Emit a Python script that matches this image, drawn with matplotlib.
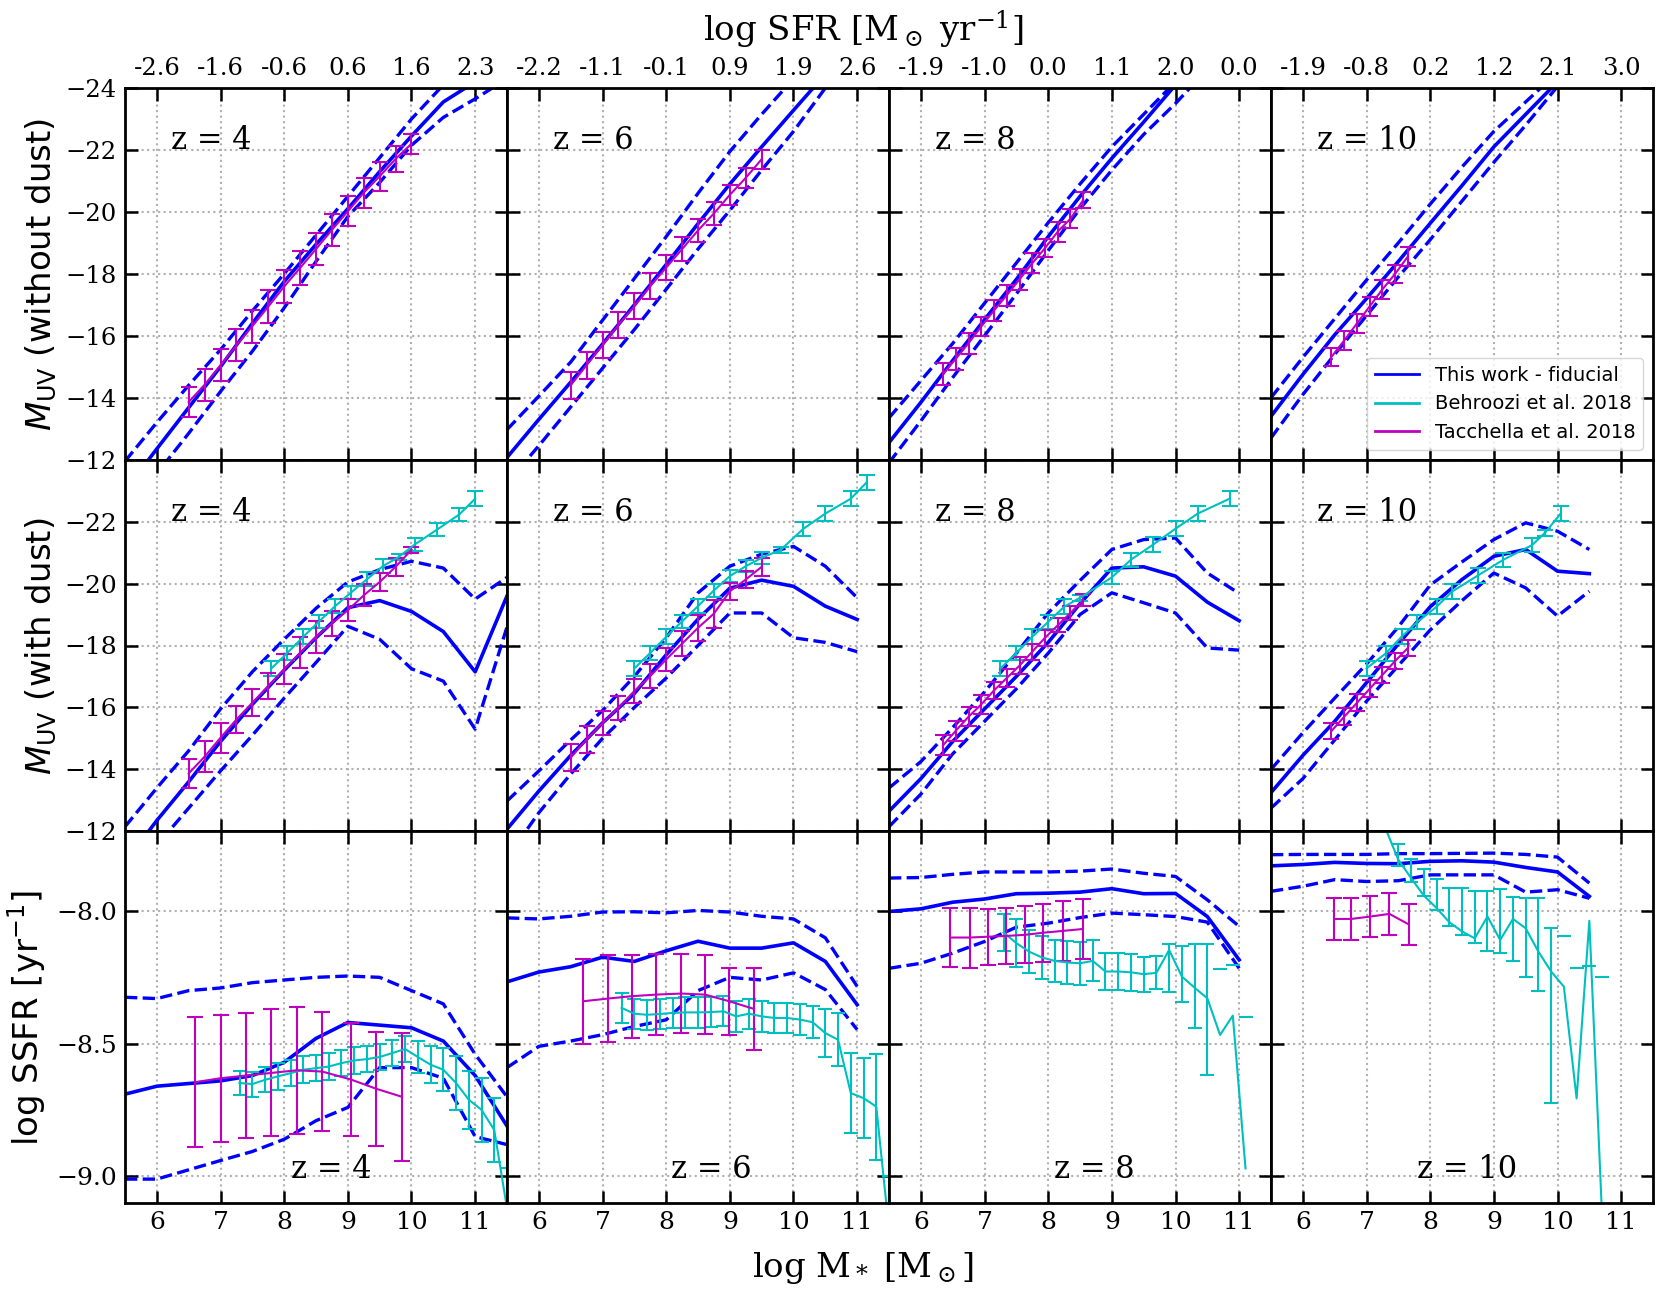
import matplotlib
matplotlib.use("Agg")
import matplotlib.pyplot as plt
from matplotlib.lines import Line2D

plt.rcParams['font.family'] = 'DejaVu Serif'
plt.rcParams['mathtext.fontset'] = 'dejavusans'

nan = float('nan')
redshifts = [4, 6, 8, 10]

# model mass grid per redshift
mass_grid = {
    4: [5.5, 6.0, 6.5, 7.0, 7.5, 8.0, 8.5, 9.0, 9.5, 10.0, 10.5, 11.0, 11.5],
    6: [5.5, 6.0, 6.5, 7.0, 7.5, 8.0, 8.5, 9.0, 9.5, 10.0, 10.5, 11.0],
    8: [5.5, 6.0, 6.5, 7.0, 7.5, 8.0, 8.5, 9.0, 9.5, 10.0, 10.5, 11.0],
    10: [5.5, 6.0, 6.5, 7.0, 7.5, 8.0, 8.5, 9.0, 9.5, 10.0, 10.5],
}

# --- M_UV without dust (median, bright / faint envelopes)
muv_nodust_med = {
    4: [-11.0, -12.35, -13.68, -15.0, -16.4, -17.75, -18.95, -20.1, -21.3, -22.45, -23.55, -24.2, -24.8],
    6: [-12.07, -13.3, -14.5, -15.73, -17.0, -18.3, -19.62, -20.9, -22.1, -23.28, -24.45, -25.5],
    8: [-12.55, -13.85, -15.2, -16.52, -17.82, -19.2, -20.5, -21.73, -22.9, -24.1, -25.2, -26.2],
    10: [-13.4, -14.75, -16.03, -17.2, -18.4, -19.63, -20.85, -22.1, -23.15, -24.2, -25.2],
}
muv_nodust_hi = {
    4: [-11.95, -13.2, -14.4, -15.55, -16.8, -18.0, -19.25, -20.5, -21.75, -23.0, -24.1, -24.8, -25.4],
    6: [-12.97, -14.05, -15.15, -16.5, -17.85, -19.2, -20.6, -21.95, -23.15, -24.3, -25.4, -26.4],
    8: [-13.35, -14.55, -15.75, -17.05, -18.35, -19.65, -20.9, -22.1, -23.15, -24.2, -25.2, -26.2],
    10: [-14.0, -15.3, -16.55, -17.8, -19.0, -20.25, -21.45, -22.6, -23.55, -24.5, -25.4],
}
muv_nodust_lo = {
    4: [-10.6, -11.55, -12.85, -14.2, -15.5, -16.9, -18.4, -19.85, -20.95, -22.15, -23.05, -23.65, -24.3],
    6: [-11.25, -12.45, -13.7, -14.95, -16.2, -17.5, -18.8, -20.05, -21.35, -22.6, -24.0, -25.0],
    8: [-11.9, -13.25, -14.65, -16.0, -17.35, -18.75, -20.1, -21.35, -22.5, -23.5, -24.6, -25.6],
    10: [-12.7, -14.1, -15.4, -16.65, -17.9, -19.1, -20.35, -21.6, -22.8, -24.05, -25.1],
}

# --- M_UV with dust
muv_dust_med = {
    4: [-11.0, -12.35, -13.6, -14.9, -16.1, -17.2, -18.25, -19.22, -19.45, -19.1, -18.45, -17.15, -19.6],
    6: [-12.07, -13.3, -14.45, -15.5, -16.45, -17.7, -18.85, -19.85, -20.11, -19.91, -19.27, -18.84],
    8: [-12.65, -13.7, -14.9, -15.95, -17.0, -18.1, -19.35, -20.5, -20.54, -20.24, -19.4, -18.8],
    10: [-13.25, -14.45, -15.55, -16.8, -18.05, -19.25, -20.13, -20.88, -21.1, -20.4, -20.32],
}
muv_dust_hi = {
    4: [-12.15, -13.4, -14.6, -15.95, -17.15, -18.2, -19.2, -20.05, -20.45, -20.72, -20.5, -19.5, -20.2],
    6: [-12.98, -13.95, -14.95, -15.9, -17.0, -18.25, -19.7, -20.56, -20.95, -21.2, -20.56, -19.54],
    8: [-13.4, -14.25, -15.35, -16.5, -17.75, -19.05, -20.1, -21.1, -21.42, -21.47, -20.34, -19.68],
    10: [-14.0, -15.18, -16.3, -17.4, -18.6, -19.95, -20.7, -21.42, -21.96, -21.69, -21.1],
}
muv_dust_lo = {
    4: [-10.45, -11.55, -12.75, -13.95, -15.1, -16.3, -17.45, -18.62, -18.2, -17.25, -16.85, -15.3, -18.6],
    6: [-11.15, -12.6, -13.85, -15.0, -16.0, -16.95, -18.0, -19.05, -19.05, -18.25, -18.1, -17.8],
    8: [-12.15, -13.2, -14.5, -15.55, -16.6, -17.75, -19.0, -19.7, -19.38, -19.05, -17.92, -17.85],
    10: [-12.75, -13.7, -14.95, -16.2, -17.35, -18.5, -19.45, -20.34, -19.86, -18.95, -19.75],
}

# --- log SSFR
ssfr_med = {
    4: [-8.69, -8.66, -8.65, -8.64, -8.62, -8.57, -8.48, -8.42, -8.43, -8.44, -8.49, -8.62, -8.81],
    6: [-8.267, -8.23, -8.21, -8.174, -8.19, -8.15, -8.114, -8.14, -8.14, -8.12, -8.19, -8.353],
    8: [-8.002, -7.992, -7.967, -7.955, -7.935, -7.933, -7.929, -7.916, -7.935, -7.934, -8.021, -8.184],
    10: [-7.83, -7.825, -7.817, -7.821, -7.822, -7.813, -7.811, -7.816, -7.836, -7.853, -7.945],
}
ssfr_hi = {
    4: [-8.325, -8.33, -8.30, -8.29, -8.27, -8.26, -8.25, -8.245, -8.25, -8.30, -8.35, -8.54, -8.70],
    6: [-8.026, -8.03, -8.02, -8.004, -8.003, -8.007, -7.998, -8.004, -8.02, -8.03, -8.101, -8.284],
    8: [-7.876, -7.874, -7.862, -7.853, -7.853, -7.853, -7.85, -7.842, -7.858, -7.87, -7.958, -8.058],
    10: [-7.788, -7.787, -7.787, -7.787, -7.784, -7.784, -7.783, -7.782, -7.787, -7.797, -7.895],
}
ssfr_lo = {
    4: [-9.01, -9.01, -8.975, -8.94, -8.906, -8.86, -8.79, -8.74, -8.59, -8.59, -8.63, -8.85, -8.88],
    6: [-8.59, -8.51, -8.49, -8.466, -8.435, -8.41, -8.30, -8.25, -8.26, -8.233, -8.296, -8.447],
    8: [-8.216, -8.197, -8.159, -8.115, -8.061, -8.046, -8.025, -8.008, -8.014, -8.021, -8.042, -8.216],
    10: [-7.926, -7.907, -7.882, -7.889, -7.886, -7.864, -7.864, -7.864, -7.929, -7.92, -7.952],
}

# --- Tacchella et al. 2018 (M_UV)
tac_mass = {
    4: [6.5, 6.75, 7.0, 7.25, 7.5, 7.75, 8.0, 8.25, 8.5, 8.75, 9.0, 9.25, 9.5, 9.75, 10.0],
    6: [6.5, 6.75, 7.0, 7.25, 7.5, 7.75, 8.0, 8.25, 8.5, 8.75, 9.0, 9.25, 9.5],
    8: [6.35, 6.55, 6.75, 6.95, 7.15, 7.35, 7.55, 7.75, 7.95, 8.15, 8.35, 8.55],
    10: [6.45, 6.65, 6.85, 7.05, 7.25, 7.45, 7.65],
}
tac_nodust = {
    4: [-13.86, -14.42, -15.05, -15.69, -16.31, -16.94, -17.59, -18.19, -18.8, -19.42, -20.02, -20.62, -21.15, -21.71, -22.2],
    6: [-14.4, -15.05, -15.7, -16.35, -16.95, -17.6, -18.2, -18.8, -19.4, -19.95, -20.55, -21.1, -21.7],
    8: [-14.77, -15.26, -15.76, -16.3, -16.82, -17.31, -17.82, -18.34, -18.83, -19.36, -19.78, -20.38],
    10: [-15.32, -15.85, -16.4, -16.95, -17.5, -18.0, -18.56],
}
tac_nodust_err = {
    4: [0.48, 0.52, 0.51, 0.52, 0.53, 0.54, 0.52, 0.54, 0.53, 0.52, 0.48, 0.49, 0.46, 0.41, 0.32],
    6: [0.43, 0.43, 0.43, 0.42, 0.42, 0.42, 0.4, 0.4, 0.38, 0.36, 0.33, 0.32, 0.3],
    8: [0.35, 0.35, 0.34, 0.32, 0.35, 0.34, 0.33, 0.32, 0.29, 0.32, 0.31, 0.25],
    10: [0.3, 0.3, 0.3, 0.3, 0.3, 0.3, 0.3],
}
tac_dust = {
    4: [-13.87, -14.41, -15.02, -15.61, -16.15, -16.69, -17.23, -17.76, -18.28, -18.71, -19.14, -19.62, -20.05, -20.54, -21.09],
    6: [-14.38, -14.97, -15.5, -15.99, -16.53, -17.01, -17.55, -18.06, -18.57, -19.03, -19.75, -20.13, -20.54],
    8: [-14.78, -15.25, -15.7, -16.1, -16.55, -16.95, -17.35, -17.8, -18.25, -18.65, -19.05, -19.46],
    10: [-15.24, -15.7, -16.15, -16.6, -17.05, -17.5, -17.92],
}
tac_dust_err = {
    4: [0.46, 0.5, 0.48, 0.43, 0.43, 0.43, 0.48, 0.5, 0.51, 0.4, 0.35, 0.35, 0.3, 0.3, 0.1],
    6: [0.43, 0.43, 0.38, 0.38, 0.38, 0.38, 0.38, 0.4, 0.43, 0.45, 0.27, 0.27, 0.3],
    8: [0.33, 0.32, 0.3, 0.3, 0.28, 0.28, 0.27, 0.26, 0.25, 0.23, 0.22, 0.2],
    10: [0.27, 0.27, 0.27, 0.27, 0.27, 0.27, 0.27],
}

# --- Behroozi et al. 2018 (M_UV with dust)
beh_mass = {
    4: [7.8, 8.05, 8.3, 8.55, 8.8, 9.05, 9.3, 9.55, 9.8, 10.05, 10.4, 10.75, 11.0],
    6: [7.5, 7.75, 8.0, 8.25, 8.5, 8.75, 9.0, 9.25, 9.5, 9.8, 10.15, 10.5, 10.9, 11.15],
    8: [7.25, 7.5, 7.75, 8.0, 8.25, 8.5, 9.0, 9.3, 9.65, 10.0, 10.35, 10.85],
    10: [7.0, 7.3, 7.55, 7.8, 8.1, 8.35, 8.75, 9.15, 9.6, 9.8, 10.05],
}
beh_dust = {
    4: [-17.26, -17.76, -18.28, -18.78, -19.27, -19.71, -20.14, -20.56, -20.86, -21.26, -21.74, -22.23, -22.74],
    6: [-17.26, -17.76, -18.28, -18.78, -19.27, -19.78, -20.24, -20.56, -20.83, -21.09, -21.76, -22.26, -22.74, -23.27],
    8: [-17.26, -17.76, -18.28, -18.76, -19.25, -19.54, -20.2, -20.77, -21.26, -21.77, -22.26, -22.74],
    10: [-17.26, -17.74, -18.28, -18.76, -19.25, -19.75, -20.26, -20.77, -21.24, -21.63, -22.26],
}
beh_dust_err = {
    4: [0.24, 0.22, 0.24, 0.22, 0.22, 0.22, 0.22, 0.22, 0.1, 0.22, 0.22, 0.22, 0.24],
    6: [0.24, 0.22, 0.24, 0.22, 0.22, 0.2, 0.2, 0.2, 0.2, 0.1, 0.24, 0.24, 0.24, 0.24],
    8: [0.24, 0.22, 0.24, 0.24, 0.24, 0.1, 0.2, 0.22, 0.24, 0.24, 0.24, 0.25],
    10: [0.24, 0.24, 0.24, 0.24, 0.24, 0.24, 0.25, 0.23, 0.23, 0.1, 0.24],
}

# --- Tacchella et al. 2018 (SSFR)
tac_ssfr_mass = {
    4: [6.6, 7.0, 7.4, 7.8, 8.2, 8.6, 9.05, 9.45, 9.85],
    6: [6.7, 7.08, 7.46, 7.84, 8.24, 8.61, 8.99, 9.38],
    8: [6.46, 6.77, 7.05, 7.34, 7.63, 7.92, 8.23, 8.54],
    10: [6.49, 6.76, 7.06, 7.36, 7.66],
}
tac_ssfr = {
    4: [-8.645, -8.63, -8.62, -8.61, -8.60, -8.605, -8.635, -8.67, -8.70],
    6: [-8.34, -8.33, -8.321, -8.315, -8.311, -8.315, -8.34, -8.369],
    8: [-8.10, -8.10, -8.097, -8.094, -8.09, -8.082, -8.075, -8.068],
    10: [-8.03, -8.03, -8.021, -8.011, -8.05],
}
tac_ssfr_err = {
    4: [0.245, 0.24, 0.236, 0.239, 0.239, 0.224, 0.213, 0.214, 0.24],
    6: [0.16, 0.163, 0.157, 0.152, 0.148, 0.148, 0.126, 0.156],
    8: [0.112, 0.113, 0.105, 0.104, 0.107, 0.11, 0.112, 0.113],
    10: [0.078, 0.078, 0.078, 0.078, 0.078],
}

# --- Behroozi et al. 2018 (SSFR), lower / upper errors (nan = undefined side)
beh_ssfr_mass = {
    4: [7.3, 7.5, 7.7, 7.9, 8.1, 8.3, 8.5, 8.7, 8.9, 9.1, 9.3, 9.5, 9.7, 9.9, 10.1, 10.3, 10.5, 10.7, 10.9, 11.1, 11.3, 11.5],
    6: [7.3, 7.5, 7.7, 7.9, 8.1, 8.3, 8.5, 8.7, 8.9, 9.1, 9.3, 9.5, 9.7, 9.9, 10.1, 10.3, 10.5, 10.7, 10.9, 11.1, 11.3, 11.5],
    8: [7.3, 7.5, 7.7, 7.9, 8.1, 8.3, 8.5, 8.7, 8.9, 9.1, 9.3, 9.5, 9.7, 9.9, 10.1, 10.3, 10.5, 10.7, 10.9, 11.1],
    10: [7.3, 7.5, 7.7, 7.9, 8.1, 8.3, 8.5, 8.7, 8.9, 9.1, 9.3, 9.5, 9.7, 9.9, 10.1, 10.3, 10.5, 10.7],
}
beh_ssfr = {
    4: [-8.648, -8.652, -8.636, -8.623, -8.611, -8.598, -8.592, -8.586, -8.573, -8.563, -8.558, -8.55, -8.535, -8.52,
        -8.55, -8.579, -8.598, -8.648, -8.711, -8.749, -8.825, -9.12],
    6: [-8.365, -8.387, -8.391, -8.388, -8.384, -8.382, -8.382, -8.381, -8.378, -8.397, -8.387, -8.397, -8.403, -8.403,
        -8.409, -8.419, -8.46, -8.485, -8.686, -8.705, -8.737, -9.2],
    8: [-8.081, -8.121, -8.153, -8.175, -8.188, -8.194, -8.197, -8.188, -8.228, -8.228, -8.231, -8.238, -8.233, -8.147,
        -8.247, -8.289, -8.329, -8.467, -8.394, -8.97],
    10: [-7.69, -7.807, -7.876, -7.942, -7.989, -8.042, -8.077, -8.103, -8.021, -8.109, -8.03, -8.065, -8.153, -8.228,
         -8.285, -8.706, -8.037, -9.15],
}
beh_ssfr_err_lo = {
    4: [0.047, 0.047, 0.047, 0.05, 0.05, 0.05, 0.05, 0.05, 0.05, 0.05, 0.05, 0.05, 0.05, 0.05,
        0.06, 0.07, 0.08, 0.1, 0.11, 0.12, 0.12, 0.15],
    6: [0.057, 0.057, 0.057, 0.057, 0.057, 0.057, 0.057, 0.057, 0.057, 0.057, 0.057, 0.057, 0.057, 0.057,
        0.057, 0.06, 0.09, 0.1, 0.15, 0.15, 0.2, 0.2],
    8: [0.07, 0.09, 0.08, 0.08, 0.08, 0.08, 0.08, 0.077, 0.07, 0.071, 0.07, 0.066, 0.062, 0.159,
        0.097, 0.153, 0.289, nan, nan, nan],
    10: [nan, 0.025, 0.015, 0.003, 0.007, 0.013, 0.015, 0.018, 0.129, 0.05, 0.16, 0.182, 0.148, 0.497,
         nan, nan, 0.172, nan],
}
beh_ssfr_err_hi = {
    4: [0.047, 0.047, 0.047, 0.05, 0.05, 0.05, 0.05, 0.05, 0.05, 0.05, 0.05, 0.05, 0.05, 0.05,
        0.06, 0.07, 0.08, 0.1, 0.11, 0.12, 0.12, 0.15],
    6: [0.057, 0.057, 0.057, 0.057, 0.057, 0.057, 0.057, 0.057, 0.057, 0.057, 0.057, 0.057, 0.057, 0.057,
        0.057, 0.06, 0.09, 0.1, 0.15, 0.15, 0.2, 0.2],
    8: [0.07, 0.09, 0.08, 0.08, 0.08, 0.08, 0.08, 0.077, 0.07, 0.071, 0.07, 0.066, 0.062, 0.022,
        0.116, 0.164, 0.204, 0.25, 0.19, 0.57],
    10: [nan, 0.059, 0.073, 0.1, 0.11, 0.128, 0.163, 0.177, 0.097, 0.193, 0.082, 0.113, 0.2, 0.163,
         0.189, 0.493, nan, 0.9],
}

# top axis: log SFR at the stellar mass ticks
mass_ticks = [6, 7, 8, 9, 10, 11]
sfr_ticklabels = {
    4: ['-2.6', '-1.6', '-0.6', '0.6', '1.6', '2.3'],
    6: ['-2.2', '-1.1', '-0.1', '0.9', '1.9', '2.6'],
    8: ['-1.9', '-1.0', '0.0', '1.1', '2.0', '0.0'],
    10: ['-1.9', '-0.8', '0.2', '1.2', '2.1', '3.0'],
}
bottom_label_x = [8.1, 8.08, 8.09, 7.79]

W, H = 1661, 1297
fig, axes = plt.subplots(3, 4, figsize=(W / 100, H / 100), dpi=100,
                         gridspec_kw=dict(wspace=0, hspace=0))
fig.subplots_adjust(left=125 / W, right=1653 / W, top=1 - 88 / H, bottom=1 - 1203 / H)

rows = [
    (muv_nodust_med, muv_nodust_hi, muv_nodust_lo),
    (muv_dust_med, muv_dust_hi, muv_dust_lo),
    (ssfr_med, ssfr_hi, ssfr_lo),
]

for r in range(3):
    med, hi, lo = rows[r]
    for c, z in enumerate(redshifts):
        ax = axes[r, c]
        m = mass_grid[z]
        ax.plot(m, med[z], color='b', lw=2.6)
        ax.plot(m, hi[z], color='b', lw=2.4, ls='--')
        ax.plot(m, lo[z], color='b', lw=2.4, ls='--')

        if r == 0:
            ax.errorbar(tac_mass[z], tac_nodust[z], yerr=tac_nodust_err[z], color='m',
                        lw=1.5, elinewidth=1.5, capsize=6, capthick=1.5)
        elif r == 1:
            ax.errorbar(beh_mass[z], beh_dust[z], yerr=beh_dust_err[z], color='c',
                        lw=1.5, elinewidth=1.5, capsize=6, capthick=1.5)
            ax.errorbar(tac_mass[z], tac_dust[z], yerr=tac_dust_err[z], color='m',
                        lw=1.5, elinewidth=1.5, capsize=6, capthick=1.5)
        else:
            ax.errorbar(beh_ssfr_mass[z], beh_ssfr[z],
                        yerr=[beh_ssfr_err_lo[z], beh_ssfr_err_hi[z]], color='c',
                        lw=1.5, elinewidth=1.5, capsize=5, capthick=1.5)
            ax.errorbar(tac_ssfr_mass[z], tac_ssfr[z], yerr=tac_ssfr_err[z], color='m',
                        lw=1.5, elinewidth=1.5, capsize=6, capthick=1.5)

        ax.set_xlim(5.5, 11.5)
        ax.set_xticks(mass_ticks)
        if r < 2:
            ax.set_ylim(-12, -24)
            ax.set_yticks([-24, -22, -20, -18, -16, -14, -12] if r == 0 else [-22, -20, -18, -16, -14, -12])
            ax.text(6.23, -22.3, 'z = %d' % z, fontsize=22, va='center', ha='left')
        else:
            ax.set_ylim(-9.1, -7.7)
            ax.set_yticks([-9.0, -8.5, -8.0])
            ax.set_yticklabels(['\u22129.0', '\u22128.5', '\u22128.0'])
            ax.text(bottom_label_x[c], -8.975, 'z = %d' % z, fontsize=22, va='center', ha='left')

        ax.grid(True, linestyle=':', color='#b0b0b0', linewidth=1.5)
        ax.tick_params(direction='in', top=True, right=True, length=9, width=1.8,
                       labelsize=18, pad=6)
        for sp in ax.spines.values():
            sp.set_linewidth(2)

        if c > 0:
            ax.tick_params(labelleft=False)
        if r == 0:
            ax.set_xticklabels(sfr_ticklabels[z])
            ax.tick_params(labeltop=True, labelbottom=False, labelsize=17.5)
        elif r == 1:
            ax.tick_params(labelbottom=False)

handles = [Line2D([], [], color='b', lw=2),
           Line2D([], [], color='c', lw=2),
           Line2D([], [], color='m', lw=2)]
axes[0, 3].legend(handles, ['This work - fiducial', 'Behroozi et al. 2018', 'Tacchella et al. 2018'],
                  loc='lower right', prop={'family': 'DejaVu Sans', 'size': 14}, handlelength=2.3)

fig.text(863 / W, 1 - 30 / H, r'log SFR [M$_\odot$ yr$^{-1}$]', ha='center', va='center',
         fontsize=24.5, math_fontfamily='dejavuserif')
fig.text(863 / W, 1 - 1268 / H, r'log M$_*$ [M$_\odot$]', ha='center', va='center',
         fontsize=24.5, math_fontfamily='dejavuserif')
fig.text(41 / W, 1 - 274 / H, r'$M_{\rm UV}$ (without dust)', rotation=90, ha='center', va='center',
         fontsize=24.5, family='DejaVu Sans')
fig.text(41 / W, 1 - 646 / H, r'$M_{\rm UV}$ (with dust)', rotation=90, ha='center', va='center',
         fontsize=24.5, family='DejaVu Sans')
fig.text(27 / W, 1 - 1018 / H, r'log SSFR [yr$^{-1}$]', rotation=90, ha='center', va='center',
         fontsize=24.5, family='DejaVu Sans')

fig.savefig('out.png', dpi=100)
